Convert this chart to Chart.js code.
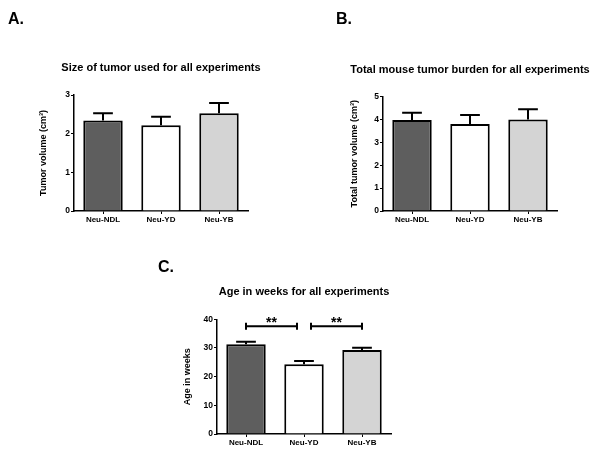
<!DOCTYPE html>
<html>
<head>
<meta charset="utf-8">
<script src="https://cdn.jsdelivr.net/npm/chart.js@4.4.1/dist/chart.umd.min.js"></script>
<style>
  body { margin: 0; background: #fff; overflow: hidden; }
  #wrap { position: relative; width: 600px; height: 453px; background: #fff; overflow: hidden; }
  canvas { position: absolute; }
</style>
</head>
<body>
<div id="wrap">
  <canvas id="chartA" width="300" height="230" style="left:0;top:0"></canvas>
  <canvas id="chartB" width="300" height="230" style="left:300px;top:0"></canvas>
  <canvas id="chartC" width="300" height="223" style="left:150px;top:230px"></canvas>
</div>
<script>
// Chart data
const categories = ['Neu-NDL', 'Neu-YD', 'Neu-YB'];

const tumorSize = [2.34, 2.22, 2.53];
const tumorSizeErr = [0.19, 0.22, 0.26];
const tumorSizeTicks = [0, 1, 2, 3];

const tumorBurden = [3.97, 3.80, 4.00];
const tumorBurdenErr = [0.32, 0.39, 0.44];
const tumorBurdenTicks = [0, 1, 2, 3, 4, 5];

const ageWeeks = [31.3, 24.3, 29.3];
const ageWeeksErr = [0.9, 1.2, 0.8];
const ageWeeksTicks = [0, 10, 20, 30, 40];

// significance brackets for panel C
const ageSigPairs = [[0, 1], [1, 2]];
const ageSigLabels = ['**', '**'];
const ageSigLevel = 37.6;

// Styles
const FONT = '"Liberation Sans", Arial, sans-serif';
const barColors = ['#5e5e5e', '#ffffff', '#d4d4d4'];

// Error bars (upper only, like Prism)
const errorBars = (errors) => ({
  id: 'errorBars',
  afterDatasetsDraw(chart) {
    const { ctx } = chart;
    const yScale = chart.scales.y;
    const values = chart.data.datasets[0].data;
    const meta = chart.getDatasetMeta(0);
    ctx.save();
    ctx.strokeStyle = '#000';
    ctx.lineWidth = 2;
    meta.data.forEach((bar, i) => {
      const yTop = yScale.getPixelForValue(values[i]);
      const yErr = yScale.getPixelForValue(values[i] + errors[i]);
      const cap = bar.width / 2;
      ctx.beginPath();
      ctx.moveTo(bar.x, yTop);
      ctx.lineTo(bar.x, yErr);
      ctx.moveTo(bar.x - cap / 2, yErr);
      ctx.lineTo(bar.x + cap / 2, yErr);
      ctx.stroke();
    });
    ctx.restore();
  }
});

// Significance brackets with labels
const sigBrackets = (pairs, labels, level) => ({
  id: 'sigBrackets',
  afterDatasetsDraw(chart) {
    const { ctx } = chart;
    const xScale = chart.scales.x;
    const y = chart.scales.y.getPixelForValue(level);
    const trim = 7;
    ctx.save();
    ctx.strokeStyle = '#000';
    ctx.fillStyle = '#000';
    ctx.lineWidth = 2;
    pairs.forEach(([a, b], i) => {
      // shorten the end that touches the shared middle bar
      let x1 = xScale.getPixelForValue(a);
      let x2 = xScale.getPixelForValue(b);
      if (i === 0) x2 -= trim; else x1 += trim;
      ctx.beginPath();
      ctx.moveTo(x1, y); ctx.lineTo(x2, y);
      ctx.moveTo(x1, y - 3.5); ctx.lineTo(x1, y + 3.5);
      ctx.moveTo(x2, y - 3.5); ctx.lineTo(x2, y + 3.5);
      ctx.stroke();
      ctx.font = 'bold 14px ' + FONT;
      ctx.textAlign = 'center';
      ctx.textBaseline = 'middle';
      ctx.fillText(labels[i], (x1 + x2) / 2, y - 3);
    });
    ctx.restore();
  }
});

// Panel letter and chart title, title centred over the plot area
const panelText = (letter, letterX, letterY, title, titleY) => ({
  id: 'panelText',
  afterDraw(chart) {
    const { ctx, chartArea } = chart;
    ctx.save();
    ctx.fillStyle = '#000';
    ctx.font = 'bold 16px ' + FONT;
    ctx.textAlign = 'left';
    ctx.textBaseline = 'alphabetic';
    ctx.fillText(letter, letterX, letterY);
    ctx.font = 'bold 11px ' + FONT;
    ctx.textAlign = 'center';
    ctx.textBaseline = 'middle';
    ctx.fillText(title, (chartArea.left + chartArea.right) / 2, titleY);
    ctx.restore();
  }
});

// Build one Prism-style column chart
const makeBarChart = (id, cfg) => {
  const axisFont = { family: FONT, size: 8, weight: 'bold' };
  return new Chart(document.getElementById(id), {
    type: 'bar',
    data: {
      labels: categories,
      datasets: [{
        data: cfg.values,
        backgroundColor: barColors,
        borderColor: '#000',
        borderWidth: 2,
        categoryPercentage: 1,
        barPercentage: 0.68
      }]
    },
    options: {
      responsive: false,
      animation: false,
      events: [],
      layout: { padding: { left: 0, right: cfg.padRight, top: cfg.plotTop, bottom: 0 } },
      plugins: {
        legend: { display: false },
        tooltip: { enabled: false },
        title: { display: false }
      },
      scales: {
        x: {
          grid: { display: true, drawOnChartArea: false, offset: false, tickLength: 3, color: '#000', lineWidth: 1 },
          border: { display: true, color: '#000', width: 1.5 },
          ticks: { color: '#000', font: axisFont, padding: 1, maxRotation: 0 },
          afterFit: (scale) => { scale.height = 19; }
        },
        y: {
          min: 0,
          max: cfg.ticks[cfg.ticks.length - 1],
          grid: { display: true, drawOnChartArea: false, tickLength: 3, color: '#000', lineWidth: 1 },
          border: { display: true, color: '#000', width: 1.5 },
          ticks: { color: '#000', font: { family: FONT, size: 8.5, weight: 'bold' }, padding: 1 },
          afterBuildTicks: (scale) => { scale.ticks = cfg.ticks.map(v => ({ value: v })); },
          afterFit: (scale) => { scale.width = cfg.axisWidth; },
          title: {
            display: true,
            text: cfg.yTitle,
            color: '#000',
            font: { family: FONT, size: 9, weight: 'bold' },
            padding: { top: cfg.yTitlePad, bottom: 0 }
          }
        }
      }
    },
    plugins: cfg.plugins
  });
};

// Initialize panels
document.addEventListener('DOMContentLoaded', function() {
  makeBarChart('chartA', {
    values: tumorSize,
    ticks: tumorSizeTicks,
    yTitle: 'Tumor volume (cm³)',
    axisWidth: 74, padRight: 52, plotTop: 95,
    yTitlePad: 38.5,
    plugins: [errorBars(tumorSizeErr), panelText('A.', 8, 24, 'Size of tumor used for all experiments', 68)]
  });

  makeBarChart('chartB', {
    values: tumorBurden,
    ticks: tumorBurdenTicks,
    yTitle: 'Total tumor volume (cm³)',
    axisWidth: 83, padRight: 43, plotTop: 96.5,
    yTitlePad: 49,
    plugins: [errorBars(tumorBurdenErr), panelText('B.', 36, 24, 'Total mouse tumor burden for all experiments', 70)]
  });

  makeBarChart('chartC', {
    values: ageWeeks,
    ticks: ageWeeksTicks,
    yTitle: 'Age in weeks',
    axisWidth: 67, padRight: 59, plotTop: 89.3,
    yTitlePad: 32,
    plugins: [
      errorBars(ageWeeksErr),
      sigBrackets(ageSigPairs, ageSigLabels, ageSigLevel),
      panelText('C.', 8, 42, 'Age in weeks for all experiments', 62.3)
    ]
  });
});
</script>
</body>
</html>
